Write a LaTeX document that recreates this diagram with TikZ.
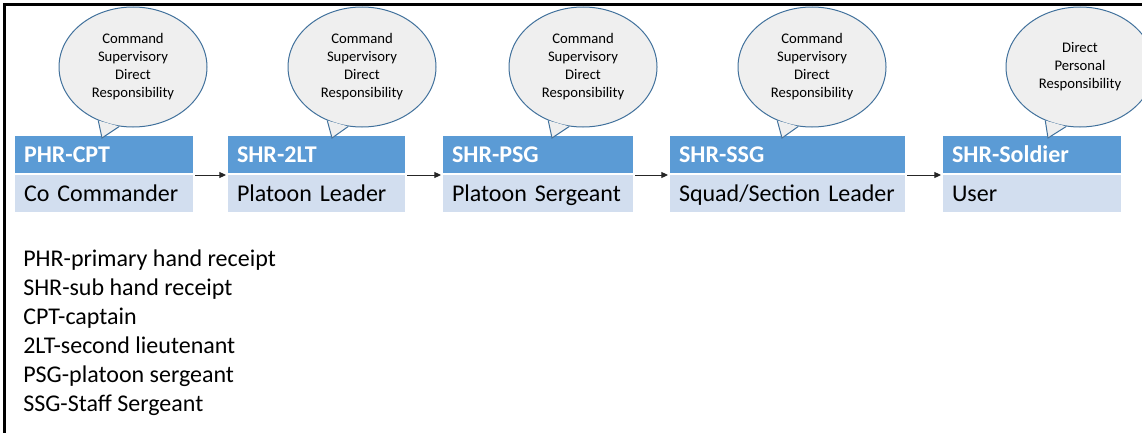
\documentclass[tikz,border=0pt]{standalone}
\usepackage{fontspec}
\setmainfont{Carlito}
\usetikzlibrary{shapes.geometric,arrows.meta}
\definecolor{headblue}{HTML}{5B9BD5}
\definecolor{bodyblue}{HTML}{D2DEEF}
\definecolor{bubblegray}{HTML}{EFEFEF}
\definecolor{bubbleline}{HTML}{41719C}

\begin{document}
\begin{tikzpicture}
[x=0.75pt, y=-0.75pt, every node/.style={inner sep=0pt},
 head/.style={rectangle, anchor=north west, inner xsep=7.5pt, minimum height=29.25pt, text height=13.5pt, text depth=1.25pt, align=left, fill=headblue, draw=white, line width=1.5pt, text=white, font=\fontsize{18pt}{21.6pt}\selectfont\bfseries},
 body/.style={rectangle, anchor=north west, inner xsep=7.5pt, minimum height=29.25pt, text height=13.5pt, text depth=1.25pt, align=left, fill=bodyblue, draw=white, line width=1.5pt, text=black, font=\fontsize{18pt}{21.6pt}\selectfont},
 bubble/.style={ellipse, minimum width=111pt, minimum height=90pt, fill=bubblegray, draw=bubbleline, line width=0.75pt, align=center, font=\fontsize{11pt}{13.5pt}\selectfont},
 flow/.style={line width=0.75pt, color=black!85, -{Triangle[length=5pt,width=4.5pt]}}]
\useasboundingbox (0,0) rectangle (1142,432);
\draw [line width=2.25pt] (4.5,440) |- (1150,4.5);
\node (cpt) [head, text width=120pt] at (13,134) {PHR-CPT};
\node (coco) [body, text width=120pt] at (13,173) {Co Commander};
\node (lt) [head, text width=119.25pt] at (226,134) {SHR-2LT};
\node (pl) [body, text width=119.25pt] at (226,173) {Platoon Leader};
\node (psg) [head, text width=129pt] at (441,134) {SHR-PSG};
\node (ps) [body, text width=129pt] at (441,173) {Platoon Sergeant};
\node (ssg) [head, text width=162.75pt] at (668,134) {SHR-SSG};
\node (sl) [body, text width=162.75pt] at (668,173) {Squad/Section Leader};
\node (sol) [head, text width=120pt] at (941,134) {SHR-Soldier};
\node (user) [body, text width=120pt] at (941,173) {User};
\draw [flow] (cpt.south east) -- (lt.south west);
\draw [flow] (lt.south east) -- (psg.south west);
\draw [flow] (psg.south east) -- (ssg.south west);
\draw [flow] (ssg.south east) -- (sol.south west);
% speech bubbles
\node (b1) [bubble] at (133,67) {Command\\Supervisory\\Direct\\Responsibility};
\node (b2) [bubble] at (362,67) {Command\\Supervisory\\Direct\\Responsibility};
\node (b3) [bubble] at (583,67) {Command\\Supervisory\\Direct\\Responsibility};
\node (b4) [bubble] at (812,67) {Command\\Supervisory\\Direct\\Responsibility};
\node (b5) [bubble] at (1080,67) {Direct\\Personal\\Responsibility};
\coordinate (t1) at (102,138);
\coordinate (t2) at (332,138);
\coordinate (t3) at (552,138);
\coordinate (t4) at (782,138);
\coordinate (t5) at (1048,138);
\fill [bubblegray] (b1.237) -- (t1) -- (b1.257) -- cycle;
\fill [bubblegray] (b2.237) -- (t2) -- (b2.257) -- cycle;
\fill [bubblegray] (b3.237) -- (t3) -- (b3.257) -- cycle;
\fill [bubblegray] (b4.237) -- (t4) -- (b4.257) -- cycle;
\fill [bubblegray] (b5.237) -- (t5) -- (b5.257) -- cycle;
\draw [bubbleline, line width=0.75pt] (b1.237) -- (t1) -- (b1.257);
\draw [bubbleline, line width=0.75pt] (b2.237) -- (t2) -- (b2.257);
\draw [bubbleline, line width=0.75pt] (b3.237) -- (t3) -- (b3.257);
\draw [bubbleline, line width=0.75pt] (b4.237) -- (t4) -- (b4.257);
\draw [bubbleline, line width=0.75pt] (b5.237) -- (t5) -- (b5.257);
% key
\node (key) [anchor=north west, align=left, font=\fontsize{18pt}{21.75pt}\selectfont] at (23,250) {PHR-primary hand receipt\\SHR-sub hand receipt\\CPT-captain\\2LT-second lieutenant\\PSG-platoon sergeant\\SSG-Staff Sergeant};
\end{tikzpicture}
\end{document}
